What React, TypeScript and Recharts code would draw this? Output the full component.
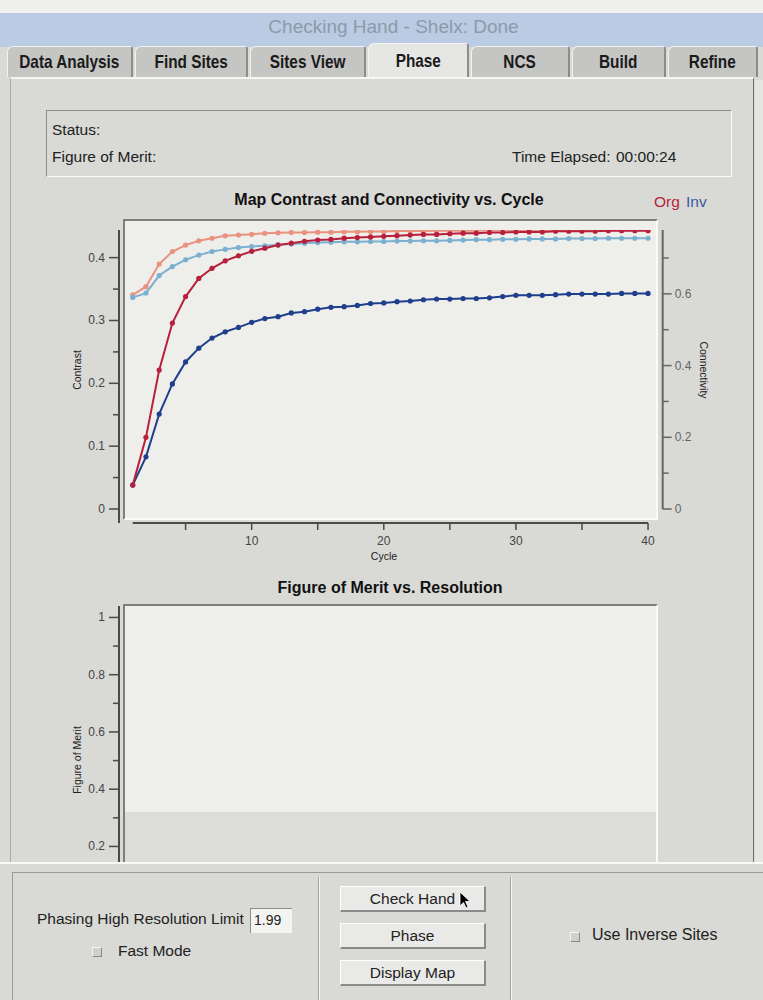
import React from 'react';
import { LineChart, Line, XAxis, YAxis, ReferenceLine, ReferenceArea } from 'recharts';

// cycle numbers (x axis)
const cycles = [1, 2, 3, 4, 5, 6, 7, 8, 9, 10, 11, 12, 13, 14, 15, 16, 17, 18, 19, 20,
  21, 22, 23, 24, 25, 26, 27, 28, 29, 30, 31, 32, 33, 34, 35, 36, 37, 38, 39, 40];

// contrast (left axis)
const orgContrast = [0.038, 0.114, 0.221, 0.296, 0.338, 0.367, 0.383, 0.395, 0.403, 0.41,
  0.415, 0.42, 0.423, 0.426, 0.428, 0.429, 0.431, 0.432, 0.433, 0.434,
  0.435, 0.436, 0.437, 0.437, 0.438, 0.439, 0.439, 0.44, 0.44, 0.441,
  0.441, 0.441, 0.442, 0.442, 0.442, 0.442, 0.443, 0.443, 0.443, 0.443];
const invContrast = [0.038, 0.083, 0.151, 0.199, 0.234, 0.256, 0.272, 0.282, 0.289, 0.297,
  0.303, 0.306, 0.312, 0.314, 0.318, 0.321, 0.322, 0.324, 0.327, 0.328,
  0.33, 0.331, 0.333, 0.334, 0.334, 0.335, 0.335, 0.336, 0.338, 0.34,
  0.34, 0.34, 0.341, 0.342, 0.342, 0.342, 0.342, 0.343, 0.343, 0.343];

// connectivity (right axis)
const orgConnectivity = [0.597, 0.62, 0.683, 0.718, 0.736, 0.748, 0.755, 0.762, 0.764, 0.766,
  0.769, 0.77, 0.771, 0.771, 0.772, 0.772, 0.773, 0.773, 0.774, 0.774,
  0.775, 0.775, 0.775, 0.776, 0.776, 0.776, 0.776, 0.777, 0.777, 0.777,
  0.777, 0.777, 0.778, 0.778, 0.778, 0.778, 0.778, 0.778, 0.778, 0.778];
const invConnectivity = [0.59, 0.602, 0.651, 0.676, 0.695, 0.708, 0.718, 0.724, 0.729, 0.732,
  0.734, 0.737, 0.739, 0.741, 0.743, 0.744, 0.745, 0.745, 0.746, 0.746,
  0.747, 0.747, 0.748, 0.748, 0.749, 0.75, 0.751, 0.751, 0.752, 0.752,
  0.753, 0.753, 0.753, 0.754, 0.754, 0.754, 0.755, 0.755, 0.755, 0.755];

// axis ticks
const cycleTicks = [5, 10, 15, 20, 25, 30, 35, 40];
const contrastTicks = [0, 0.05, 0.1, 0.15, 0.2, 0.25, 0.3, 0.35, 0.4];
const connectivityTicks = [0, 0.1, 0.2, 0.3, 0.4, 0.5, 0.6, 0.7];
const meritTicks = [0.1, 0.2, 0.3, 0.4, 0.5, 0.6, 0.7, 0.8, 0.9, 1];

const tabs = ['Data Analysis', 'Find Sites', 'Sites View', 'Phase', 'NCS', 'Build', 'Refine'];
const tabEdges = [7, 135, 250, 368, 471, 572, 668, 760];

const data = cycles.map((c, i) => ({
  cycle: c,
  orgContrast: orgContrast[i],
  invContrast: invContrast[i],
  orgConnectivity: orgConnectivity[i],
  invConnectivity: invConnectivity[i],
}));

// domains leave a little room so the axes sit apart like the original plot
const X_DOMAIN = [-0.04, 41.11];
const CONTRAST_DOMAIN = [-0.0223, 0.444];
const CONNECT_DOMAIN = [-0.039, 0.778];
const MERIT_DOMAIN = [0, 1.04];
const RES_DOMAIN = [-0.0113, 1.0126];
const MERIT_BAND = 0.32;

const RED = '#b71f3c';
const SALMON = '#e8927f';
const BLUE = '#1f3f8d';
const LIGHTBLUE = '#7cb0d0';
const AXIS = '#4a4a4a';
const FONT = "'Liberation Sans', Arial, sans-serif";

const fmt = (v: number) => (v === 0 ? '0' : v === 1 ? '1' : v.toFixed(1));

function LeftTick(props: any) {
  const { x, payload, major } = props;
  const y = payload.coordinate;
  const big = major(payload.value);
  return (
    <g>
      <line x1={x - (big ? 10 : 6)} x2={x} y1={y} y2={y} stroke={AXIS} strokeWidth={1.5} />
      {big && (
        <text x={x - 14} y={y + 4} textAnchor="end" fontSize={12} fill="#444" fontFamily={FONT}>
          {fmt(payload.value)}
        </text>
      )}
    </g>
  );
}

function RightTick(props: any) {
  const { x, payload } = props;
  const y = payload.coordinate;
  const big = Math.round(payload.value * 10) % 2 === 0;
  return (
    <g>
      <line x1={x} x2={x + (big ? 9 : 6)} y1={y} y2={y} stroke="#666" strokeWidth={1.5} />
      {big && (
        <text x={x + 12} y={y + 4} textAnchor="start" fontSize={12} fill="#666" fontFamily={FONT}>
          {fmt(payload.value)}
        </text>
      )}
    </g>
  );
}

function BottomTick(props: any) {
  const { y, payload } = props;
  const x = payload.coordinate;
  const big = payload.value % 10 === 0;
  return (
    <g>
      <line x1={x} x2={x} y1={y} y2={y + 7} stroke={AXIS} strokeWidth={1.5} />
      {big && (
        <text x={x} y={y + 22} textAnchor="middle" fontSize={12} fill="#444" fontFamily={FONT}>
          {payload.value}
        </text>
      )}
    </g>
  );
}

const abs = (left: number, top: number, extra: React.CSSProperties = {}): React.CSSProperties => ({
  position: 'absolute', left, top, whiteSpace: 'nowrap', ...extra,
});

function Button({ top, label }: { top: number; label: string }) {
  return (
    <div style={abs(340, top, {
      width: 146, height: 26, boxSizing: 'border-box', background: '#e9e9e7',
      borderTop: '1px solid #fff', borderLeft: '1px solid #fff',
      borderRight: '2px solid #8a8a8a', borderBottom: '2px solid #8a8a8a',
      fontSize: 15.5, color: '#222', textAlign: 'center', lineHeight: '24px',
    })}>{label}</div>
  );
}

function Check({ left, top }: { left: number; top: number }) {
  return (
    <div style={abs(left, top, {
      width: 10, height: 10, boxSizing: 'border-box', background: '#cfcfcd',
      borderTop: '1px solid #f4f4f4', borderLeft: '1px solid #f4f4f4',
      borderRight: '1px solid #8a8a8a', borderBottom: '1px solid #8a8a8a',
    })} />
  );
}

export default function App() {
  return (
    <div style={{ position: 'absolute', left: 0, top: 0, width: 763, height: 1000, overflow: 'hidden', background: '#d9d9d5', fontFamily: FONT }}>
      {/* window title strip */}
      <div style={abs(0, 0, { width: 763, height: 13, background: '#efefed' })} />
      <div style={abs(0, 13, { width: 763, height: 34, background: '#b9cce3' })} />
      <div style={abs(0, 16, { width: 763, textAlign: 'center', fontSize: 19, color: '#8d9aaa', paddingLeft: 24, boxSizing: 'border-box' })}>
        Checking Hand - Shelx: Done
      </div>

      {/* tabs */}
      {tabs.map((t, i) => {
        const sel = t === 'Phase';
        const l = tabEdges[i];
        const w = tabEdges[i + 1] - l - 2;
        return (
          <div key={t} style={abs(l, sel ? 43 : 46, {
            width: w, height: sel ? 35 : 31, boxSizing: 'border-box',
            background: sel ? '#e6e6e4' : '#c5c5c3',
            borderTop: '1px solid #f2f2f2', borderLeft: '1px solid #f2f2f2', borderRight: '2px solid #8c8c8c',
            borderTopLeftRadius: 6, borderTopRightRadius: 3,
            textAlign: 'center', fontWeight: 'bold', fontSize: 18.5, lineHeight: sel ? '33px' : '29px',
            color: '#1a1a1a',
          })}>
            <span style={{ display: 'inline-block', transform: 'scaleX(0.83)' }}>{t}</span>
          </div>
        );
      })}

      {/* main panel frame */}
      <div style={abs(10, 77, { width: 744, height: 786, boxSizing: 'border-box', borderTop: '2px solid #f6f6f4', borderLeft: '1px solid #a8a8a6', borderRight: '1px solid #6e6e6e' })} />
      <div style={abs(755, 80, { width: 8, height: 782, background: '#e4e4e2' })} />

      {/* status box */}
      <div style={abs(46, 110, { width: 686, height: 67, boxSizing: 'border-box', borderTop: '1px solid #8c8c8c', borderLeft: '1px solid #8c8c8c', borderRight: '1px solid #fbfbfb', borderBottom: '1px solid #fbfbfb' })} />
      <div style={abs(52, 121, { fontSize: 15.5, color: '#222' })}>Status:</div>
      <div style={abs(52, 148, { fontSize: 15.5, color: '#222' })}>Figure of Merit:</div>
      <div style={abs(512, 148, { fontSize: 15.5, color: '#222' })}>Time Elapsed:</div>
      <div style={abs(616, 148, { fontSize: 15.5, color: '#222' })}>00:00:24</div>

      {/* chart 1 */}
      <div style={abs(389, 191, { fontSize: 16, fontWeight: 'bold', color: '#111', transform: 'translateX(-50%)' })}>Map Contrast and Connectivity vs. Cycle</div>
      <div style={abs(654, 193, { fontSize: 15.5, color: RED })}>Org</div>
      <div style={abs(686, 193, { fontSize: 15.5, color: '#3b5aa8' })}>Inv</div>
      <div style={abs(123, 219, { width: 535, height: 301, boxSizing: 'border-box', background: '#eeeeea', borderTop: '2px solid #7e7e7e', borderLeft: '2px solid #7e7e7e', borderRight: '2px solid #fafafa', borderBottom: '2px solid #fafafa' })} />
      <div style={abs(0, 185, { width: 763, height: 390 })}>
        <LineChart width={763} height={390} data={data} margin={{ top: 45, right: 50.3, bottom: 22, left: 69 }}>
          <XAxis dataKey="cycle" type="number" domain={X_DOMAIN} ticks={cycleTicks} allowDataOverflow
            axisLine={false} tickLine={false} tickSize={0} tickMargin={0} height={30}
            tick={(p: any) => <BottomTick {...p} />} />
          <YAxis yAxisId="left" type="number" domain={CONTRAST_DOMAIN} ticks={contrastTicks} allowDataOverflow
            width={50} tickLine={false} tickSize={0} tickMargin={0}
            axisLine={{ stroke: AXIS, strokeWidth: 2 }}
            tick={(p: any) => <LeftTick {...p} major={(v: number) => Math.round(v * 100) % 10 === 0} />} />
          <YAxis yAxisId="right" orientation="right" type="number" domain={CONNECT_DOMAIN} ticks={connectivityTicks} allowDataOverflow
            width={50} axisLine={false} tickLine={false} tickSize={0} tickMargin={0}
            tick={(p: any) => <RightTick {...p} />} />
          <ReferenceLine yAxisId="left" ifOverflow="visible" stroke={AXIS} strokeWidth={2}
            segment={[{ x: cycles[0], y: CONTRAST_DOMAIN[0] }, { x: cycles[cycles.length - 1], y: CONTRAST_DOMAIN[0] }]} />
          <ReferenceLine yAxisId="right" ifOverflow="visible" stroke="#666" strokeWidth={2}
            segment={[{ x: X_DOMAIN[1], y: 0 }, { x: X_DOMAIN[1], y: CONNECT_DOMAIN[1] }]} />
          <Line yAxisId="right" dataKey="orgConnectivity" stroke={SALMON} strokeWidth={2} dot={{ r: 2.6, fill: SALMON, stroke: SALMON, strokeWidth: 0 }} isAnimationActive={false} />
          <Line yAxisId="right" dataKey="invConnectivity" stroke={LIGHTBLUE} strokeWidth={2} dot={{ r: 2.6, fill: LIGHTBLUE, stroke: LIGHTBLUE, strokeWidth: 0 }} isAnimationActive={false} />
          <Line yAxisId="left" dataKey="invContrast" stroke={BLUE} strokeWidth={2} dot={{ r: 2.6, fill: BLUE, stroke: BLUE, strokeWidth: 0 }} isAnimationActive={false} />
          <Line yAxisId="left" dataKey="orgContrast" stroke={RED} strokeWidth={2} dot={{ r: 2.6, fill: RED, stroke: RED, strokeWidth: 0 }} isAnimationActive={false} />
        </LineChart>
      </div>
      <div style={abs(77, 370, { fontSize: 10.5, color: '#222', transform: 'translate(-50%, -50%) rotate(-90deg)' })}>Contrast</div>
      <div style={abs(704, 370, { fontSize: 10.5, color: '#222', transform: 'translate(-50%, -50%) rotate(90deg)' })}>Connectivity</div>
      <div style={abs(384, 550, { fontSize: 10.5, color: '#222', transform: 'translateX(-50%)' })}>Cycle</div>

      {/* chart 2 */}
      <div style={abs(390, 579, { fontSize: 16, fontWeight: 'bold', color: '#111', transform: 'translateX(-50%)' })}>Figure of Merit vs. Resolution</div>
      <div style={abs(123, 604, { width: 535, height: 300, boxSizing: 'border-box', background: '#eeeeea', borderTop: '2px solid #7e7e7e', borderLeft: '2px solid #7e7e7e', borderRight: '2px solid #fafafa' })} />
      <div style={abs(0, 600, { width: 763, height: 320 })}>
        <LineChart width={763} height={320} data={[{ res: 0 }, { res: 1 }]} margin={{ top: 6, right: 100.3, bottom: 16.3, left: 69 }}>
          <XAxis dataKey="res" type="number" domain={RES_DOMAIN} allowDataOverflow hide />
          <YAxis type="number" domain={MERIT_DOMAIN} ticks={meritTicks} allowDataOverflow
            width={50} tickLine={false} tickSize={0} tickMargin={0}
            axisLine={{ stroke: AXIS, strokeWidth: 2 }}
            tick={(p: any) => <LeftTick {...p} major={(v: number) => Math.round(v * 10) % 2 === 0} />} />
          <ReferenceArea x1={0} x2={1} y1={MERIT_DOMAIN[0]} y2={MERIT_BAND} fill="#dcdcd9" fillOpacity={1} stroke="none" ifOverflow="visible" />
        </LineChart>
      </div>
      <div style={abs(77, 760, { fontSize: 10.5, color: '#222', transform: 'translate(-50%, -50%) rotate(-90deg)' })}>Figure of Merit</div>

      {/* bottom controls */}
      <div style={abs(0, 862, { width: 763, height: 138, background: '#d9d9d5', borderTop: '2px solid #f8f8f6', boxSizing: 'border-box' })} />
      <div style={abs(12, 872, { width: 751, height: 128, boxSizing: 'border-box', borderTop: '1px solid #9a9a98', borderLeft: '1px solid #9a9a98' })} />
      <div style={abs(318, 877, { width: 2, height: 123, borderLeft: '1px solid #a0a09e', borderRight: '1px solid #f6f6f4', boxSizing: 'border-box' })} />
      <div style={abs(510, 877, { width: 2, height: 123, borderLeft: '1px solid #a0a09e', borderRight: '1px solid #f6f6f4', boxSizing: 'border-box' })} />

      <div style={abs(37, 910, { fontSize: 15.5, color: '#222' })}>Phasing High Resolution Limit</div>
      <div style={abs(250, 908, { width: 42, height: 25, boxSizing: 'border-box', background: '#f3f3f1', borderTop: '1px solid #8c8c8c', borderLeft: '1px solid #8c8c8c', fontSize: 14, color: '#222', lineHeight: '23px', paddingLeft: 3 })}>1.99</div>
      <Check left={92} top={947} />
      <div style={abs(118, 942, { fontSize: 15.5, color: '#222' })}>Fast Mode</div>

      <Button top={886} label="Check Hand" />
      <Button top={923} label="Phase" />
      <Button top={960} label="Display Map" />
      <svg style={abs(459, 891)} width={12} height={18}>
        <polygon points="1,1 1,15 4.5,11.5 7,17 9,16 6.5,10.5 11,10.5" fill="#000" stroke="#fff" strokeWidth={0.8} />
      </svg>

      <Check left={570} top={932} />
      <div style={abs(592, 926, { fontSize: 16, color: '#222' })}>Use Inverse Sites</div>
    </div>
  );
}
